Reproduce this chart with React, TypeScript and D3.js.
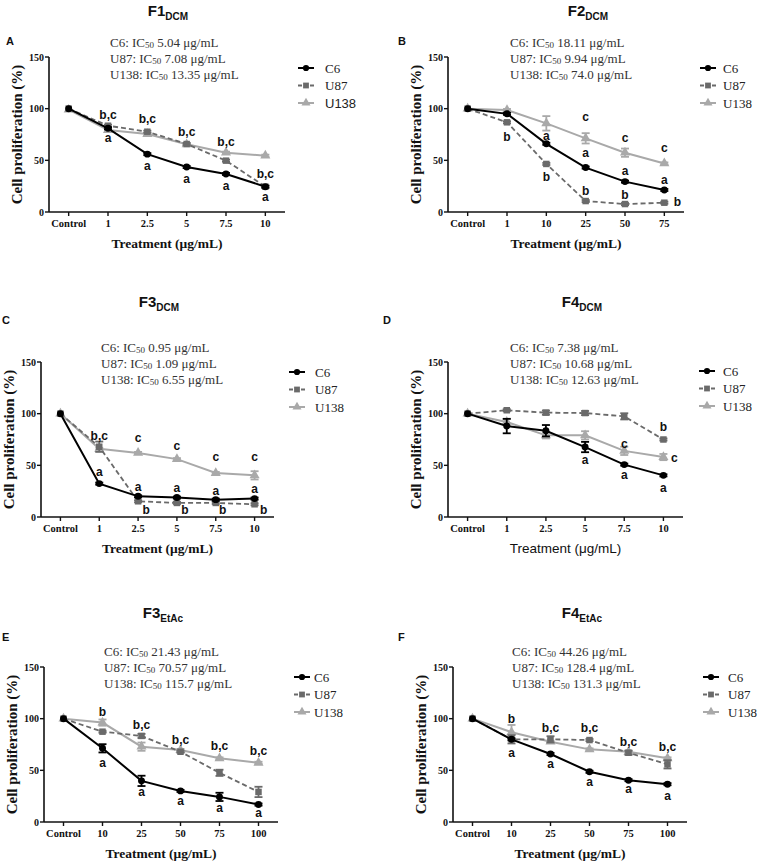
import React, { useEffect } from "react";
import * as d3 from "d3";

// ---------- data ----------
const seriesNames = ["C6", "U87", "U138"];
const yTicks = [0, 50, 100, 150];
const catsF1 = ["Control", "1", "2.5", "5", "7.5", "10"];
const catsF2 = ["Control", "1", "10", "25", "50", "75"];
const catsEtAc = ["Control", "10", "25", "50", "75", "100"];

const panelLetters = ["A", "B", "C", "D", "E", "F"];
const panelTitles = [["F1", "DCM"], ["F2", "DCM"], ["F3", "DCM"], ["F4", "DCM"], ["F3", "EtAc"], ["F4", "EtAc"]];

// F1 DCM
const f1C6 = [100, 81, 56, 43.5, 36.8, 24.5];
const f1U87 = [100, 83.5, 77.7, 65.8, 49.7, 24.5];
const f1U138 = [99, 79.3, 75.5, 65.5, 57.4, 54.5];
const f1C6Err = [0, 1, 1, 1, 1, 1];
const f1U87Err = [0, 1, 1, 1, 1, 1];
const f1U138Err = [0, 1, 1, 1, 1, 1];
const f1IC50 = ["5.04", "7.08", "13.35"];
const f1Letters: [number, string, number, number][] = [
  [1, "b,c", 94, 0], [1, "a", 72, 0], [2, "b,c", 90, 0], [2, "a", 44.5, 0],
  [3, "b,c", 78, 0], [3, "a", 32, 0], [4, "b,c", 68, 0], [4, "a", 25, 0],
  [5, "b,c", 37, 0], [5, "a", 14.5, 0],
];

// F2 DCM
const f2C6 = [100, 95, 66, 43, 29.4, 21.3];
const f2U87 = [100, 86.8, 46.5, 10.6, 7.7, 9];
const f2U138 = [100, 98.7, 85.8, 71.3, 57.4, 47];
const f2C6Err = [0, 1, 1, 1, 1, 1];
const f2U87Err = [0, 1, 1, 1, 1, 1];
const f2U138Err = [0, 1, 7, 5, 4, 1];
const f2IC50 = ["18.11", "9.94", "74.0"];
const f2Letters: [number, string, number, number][] = [
  [1, "b", 73, 0], [2, "a", 74, 0], [2, "b", 34, 0], [3, "c", 92, 0], [3, "a", 57.5, 0],
  [3, "b", 21, 0], [4, "c", 71.5, 0], [4, "a", 40, 0], [4, "b", 17, 0],
  [5, "c", 62.5, 0], [5, "a", 31, 0], [5, "b", 9.5, 13],
];

// F3 DCM
const f3C6 = [100, 32.3, 20, 18.8, 16.8, 17.8];
const f3U87 = [100, 68, 15.2, 13.6, 13.6, 12.3];
const f3U138 = [100, 66, 62, 56, 42.6, 40.3];
const f3C6Err = [0, 1, 1, 1, 1, 1];
const f3U87Err = [0, 5, 1, 1, 1, 1];
const f3U138Err = [0, 1, 1, 1, 1, 4];
const f3IC50 = ["0.95", "1.09", "6.55"];
const f3Letters: [number, string, number, number][] = [
  [1, "b,c", 79, 0], [1, "a", 43.5, 0], [2, "c", 76.5, 0], [2, "a", 29.7, 0], [2, "b", 6.5, 8],
  [3, "c", 68.7, 0], [3, "a", 28.4, 0], [3, "b", 6.5, 8], [4, "c", 58, 0], [4, "a", 25.2, 0],
  [4, "b", 6.5, 7], [5, "c", 58, 0], [5, "a", 27.4, 0], [5, "b", 6.5, 9],
];

// F4 DCM
const f4C6 = [100, 88, 83.5, 67.7, 50.7, 40.3];
const f4U87 = [100, 103.3, 101, 100.6, 97.4, 75];
const f4U138 = [100, 92, 79, 79, 64, 58];
const f4C6Err = [0, 7, 5.5, 5, 1, 1];
const f4U87Err = [0, 1, 2, 2, 3, 1];
const f4U138Err = [0, 3, 3, 4, 4, 3];
const f4IC50 = ["7.38", "10.68", "12.63"];
const f4Letters: [number, string, number, number][] = [
  [3, "a", 55, 0], [4, "c", 71, 0], [4, "a", 40.4, 0],
  [5, "b", 87, 0], [5, "c", 57.5, 11], [5, "a", 28.4, 0],
];

// F3 EtAc
const e3C6 = [100, 71.3, 39.8, 30.1, 24.3, 16.9];
const e3U87 = [100, 87.4, 83.3, 68, 47.6, 29.1];
const e3U138 = [100, 96.2, 72.9, 69.7, 61.6, 57.3];
const e3C6Err = [0, 4, 5, 1, 4, 1];
const e3U87Err = [0, 1, 2, 1, 3, 5];
const e3U138Err = [0, 3, 4, 1, 1, 1];
const e3IC50 = ["21.43", "70.57", "115.7"];
const e3Letters: [number, string, number, number][] = [
  [1, "b", 106.9, 0], [1, "a", 57.3, 0], [2, "b,c", 94, 0], [2, "a", 29, 0],
  [3, "b,c", 80, 0], [3, "a", 20.4, 0], [4, "b,c", 73.8, 0], [4, "a", 14, 0],
  [5, "b,c", 68.7, 0], [5, "a", 9.1, 0],
];

// F4 EtAc
const e4C6 = [100, 80, 65.8, 48.6, 40.5, 36.6];
const e4U87 = [100, 80, 80, 79.3, 67, 55.8];
const e4U138 = [100, 86.9, 77.7, 70.3, 68, 61.6];
const e4C6Err = [0, 1, 1, 1, 1, 1];
const e4U87Err = [0, 4, 3, 1, 2, 4];
const e4U138Err = [0, 7, 1, 1, 1, 1];
const e4IC50 = ["44.26", "128.4", "131.3"];
const e4Letters: [number, string, number, number][] = [
  [1, "b", 100, 0], [1, "a", 66.7, 0], [2, "b,c", 91, 0], [2, "a", 56.5, 0],
  [3, "b,c", 91, 0], [3, "a", 38.7, 0], [4, "b,c", 78, 0], [4, "a", 32.3, 0],
  [5, "b,c", 73.2, 0], [5, "a", 25.8, 0],
];

// ---------- layout ----------
const SERIF = "'Liberation Serif', 'Times New Roman', serif";
const SANS = "'Liberation Sans', Arial, sans-serif";

const layouts = [
  { x0: 49, x1: 285, yTop: 57, yBot: 212, tx: 168, ty: 16, lx: 6, ly: 45, icx: 110, icy: 47, gx: 298, gtx: 325, gy: 68 },
  { x0: 448, x1: 684, yTop: 57, yBot: 212, tx: 588, ty: 16, lx: 398, ly: 45, icx: 510, icy: 47, gx: 700, gtx: 723, gy: 68 },
  { x0: 41, x1: 274, yTop: 362, yBot: 517, tx: 159, ty: 307, lx: 2, ly: 324, icx: 101, icy: 352, gx: 289, gtx: 315, gy: 372 },
  { x0: 448, x1: 683, yTop: 362, yBot: 517, tx: 582, ty: 307, lx: 383, ly: 324, icx: 510, icy: 352, gx: 699, gtx: 723, gy: 371 },
  { x0: 44, x1: 278, yTop: 667, yBot: 822, tx: 163, ty: 618, lx: 2, ly: 641, icx: 104, icy: 656, gx: 294, gtx: 314, gy: 677 },
  { x0: 453, x1: 687, yTop: 667, yBot: 822, tx: 582, ty: 618, lx: 398, ly: 641, icx: 512, icy: 656, gx: 703, gtx: 728, gy: 677 },
];

const panels = [
  { cats: catsF1, values: [f1C6, f1U87, f1U138], errs: [f1C6Err, f1U87Err, f1U138Err], ic50: f1IC50, letters: f1Letters },
  { cats: catsF2, values: [f2C6, f2U87, f2U138], errs: [f2C6Err, f2U87Err, f2U138Err], ic50: f2IC50, letters: f2Letters },
  { cats: catsF1, values: [f3C6, f3U87, f3U138], errs: [f3C6Err, f3U87Err, f3U138Err], ic50: f3IC50, letters: f3Letters },
  { cats: catsF1, values: [f4C6, f4U87, f4U138], errs: [f4C6Err, f4U87Err, f4U138Err], ic50: f4IC50, letters: f4Letters },
  { cats: catsEtAc, values: [e3C6, e3U87, e3U138], errs: [e3C6Err, e3U87Err, e3U138Err], ic50: e3IC50, letters: e3Letters },
  { cats: catsEtAc, values: [e4C6, e4U87, e4U138], errs: [e4C6Err, e4U87Err, e4U138Err], ic50: e4IC50, letters: e4Letters },
];

const seriesStyle = [
  { color: "#000000", dash: undefined as string | undefined, width: 2, symbol: d3.symbolCircle, size: 38 },
  { color: "#6a6a6a", dash: "5,3", width: 1.8, symbol: d3.symbolSquare, size: 42 },
  { color: "#a9a9a9", dash: undefined as string | undefined, width: 2, symbol: d3.symbolTriangle, size: 44 },
];

function Panel({ idx }: { idx: number }) {
  const L = layouts[idx];
  const P = panels[idx];
  const x = d3.scalePoint<string>().domain(P.cats).range([L.x0, L.x1]).padding(0.5);
  const y = d3.scaleLinear().domain([0, 150]).range([L.yBot, L.yTop]);
  const line = d3
    .line<number>()
    .x((_, i) => x(P.cats[i]) as number)
    .y((d) => y(d));
  const drawOrder = [2, 1, 0];
  const midY = (L.yTop + L.yBot) / 2;
  const midX = (L.x0 + L.x1) / 2;
  const xLabelSans = idx === 3;
  return (
    <g>
      {/* title */}
      <text x={L.tx} y={L.ty} textAnchor="middle" fontFamily={SANS} fontWeight="bold" fontSize={15} fill="#111">
        {panelTitles[idx][0]}
        <tspan fontSize={10} dy={4}>{panelTitles[idx][1]}</tspan>
      </text>
      <text x={L.lx} y={L.ly} fontFamily={SANS} fontWeight="bold" fontSize={11} fill="#111">
        {panelLetters[idx]}
      </text>
      {/* IC50 text */}
      {seriesNames.map((s, i) => (
        <text key={s} x={L.icx} y={L.icy + i * 16} fontFamily={SERIF} fontSize={13} fill="#333">
          {s}: IC<tspan fontSize={9} dy={1}>50</tspan>
          <tspan dy={-1}>{" " + P.ic50[i] + " μg/mL"}</tspan>
        </text>
      ))}
      {/* axes */}
      <line x1={L.x0} x2={L.x0} y1={L.yTop} y2={L.yBot} stroke="#111" strokeWidth={1.6} />
      <line x1={L.x0} x2={L.x1} y1={L.yBot} y2={L.yBot} stroke="#111" strokeWidth={1.6} />
      {yTicks.map((t) => (
        <g key={t}>
          <line x1={L.x0 - 4} x2={L.x0} y1={y(t)} y2={y(t)} stroke="#111" strokeWidth={1.4} />
          <text x={L.x0 - 5} y={y(t)} dy="0.35em" textAnchor="end" fontFamily={SERIF} fontWeight="bold" fontSize={10} fill="#111">
            {t}
          </text>
        </g>
      ))}
      {P.cats.map((c) => (
        <g key={c}>
          <line x1={x(c)} x2={x(c)} y1={L.yBot} y2={L.yBot + 4} stroke="#111" strokeWidth={1.4} />
          <text x={x(c)} y={L.yBot + 15} textAnchor="middle" fontFamily={SERIF} fontWeight="bold" fontSize={10.5} fill="#111">
            {c}
          </text>
        </g>
      ))}
      <text
        x={midX}
        y={L.yBot + 36}
        textAnchor="middle"
        fontFamily={xLabelSans ? SANS : SERIF}
        fontWeight={xLabelSans ? "normal" : "bold"}
        fontSize={xLabelSans ? 13.5 : 13.5}
        fill="#111"
      >
        Treatment (μg/mL)
      </text>
      <text
        transform={`translate(${L.x0 - 32},${midY}) rotate(-90)`}
        textAnchor="middle"
        dominantBaseline="central"
        fontFamily={SERIF}
        fontWeight="bold"
        fontSize={15}
        fill="#111"
      >
        Cell proliferation (%)
      </text>
      {/* series */}
      {drawOrder.map((si) => {
        const st = seriesStyle[si];
        const vals = P.values[si];
        const errs = P.errs[si];
        return (
          <g key={si}>
            <path d={line(vals) || ""} fill="none" stroke={st.color} strokeWidth={st.width} strokeDasharray={st.dash} />
            {vals.map((v, i) => {
              const cx = x(P.cats[i]) as number;
              const e = errs[i];
              if (!e) return null;
              return (
                <g key={"e" + i} stroke={st.color} strokeWidth={1.8}>
                  <line x1={cx} x2={cx} y1={y(v - e)} y2={y(v + e)} />
                  <line x1={cx - 4} x2={cx + 4} y1={y(v - e)} y2={y(v - e)} />
                  <line x1={cx - 4} x2={cx + 4} y1={y(v + e)} y2={y(v + e)} />
                </g>
              );
            })}
            {vals.map((v, i) => (
              <path
                key={"m" + i}
                d={d3.symbol().type(st.symbol).size(st.size)() || ""}
                transform={`translate(${x(P.cats[i])},${y(v)})`}
                fill={st.color}
              />
            ))}
          </g>
        );
      })}
      {/* significance letters */}
      {P.letters.map(([ci, txt, v, dx], k) => (
        <text
          key={k}
          x={(x(P.cats[ci]) as number) + dx}
          y={y(v)}
          dy="0.35em"
          textAnchor="middle"
          fontFamily={SANS}
          fontWeight="bold"
          fontSize={12}
          fill="#111"
        >
          {txt}
        </text>
      ))}
      {/* legend */}
      {seriesNames.map((s, i) => {
        const st = seriesStyle[i];
        const ry = L.gy + i * 17.5;
        return (
          <g key={s}>
            <line x1={L.gx} x2={L.gx + 16} y1={ry} y2={ry} stroke={st.color} strokeWidth={st.width} strokeDasharray={i === 1 ? "4,2" : undefined} />
            <path d={d3.symbol().type(st.symbol).size(st.size * 0.8)() || ""} transform={`translate(${L.gx + 8},${ry})`} fill={st.color} />
            <text
              x={L.gtx}
              y={ry}
              dy="0.35em"
              fontFamily={idx === 0 && i === 2 ? SANS : SERIF}
              fontSize={13}
              fill="#222"
            >
              {s}
            </text>
          </g>
        );
      })}
    </g>
  );
}

export default function App() {
  useEffect(() => {
    document.body.style.margin = "0";
  }, []);
  return (
    <svg width={763} height={863} style={{ position: "absolute", left: 0, top: 0, background: "#fff" }}>
      <rect width={763} height={863} fill="#fff" />
      {layouts.map((_, i) => (
        <Panel key={i} idx={i} />
      ))}
    </svg>
  );
}
